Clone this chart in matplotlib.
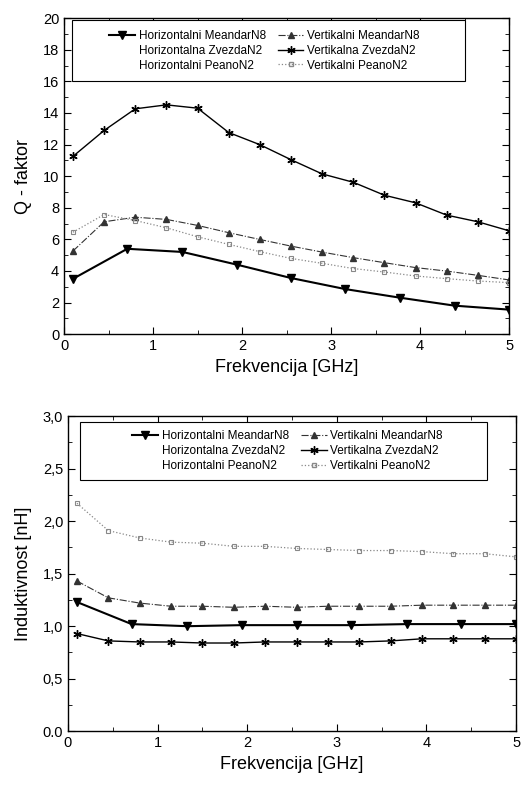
import numpy as np
import matplotlib
matplotlib.use("Agg")
import matplotlib.pyplot as plt
from matplotlib.lines import Line2D
from matplotlib.patches import Rectangle
from matplotlib.ticker import MultipleLocator, FixedLocator, FixedFormatter

plt.rcParams['font.family'] = ['Liberation Sans', 'DejaVu Sans']

# frequencies [GHz]
f_h = [0.1, 0.71, 1.33, 1.94, 2.55, 3.16, 3.78, 4.39, 5.0]
f_v = [0.1, 0.45, 0.8, 1.15, 1.5, 1.85, 2.2, 2.55, 2.9, 3.25, 3.6, 3.95, 4.3, 4.65, 5.0]

# Q - faktor
q_hor_meandar = [3.5, 5.4, 5.2, 4.4, 3.55, 2.85, 2.3, 1.8, 1.55]
q_ver_meandar = [5.26, 7.11, 7.40, 7.26, 6.88, 6.42, 5.99, 5.57, 5.19, 4.84, 4.52, 4.21, 3.99, 3.72, 3.43]
q_ver_zvezda = [11.25, 12.89, 14.26, 14.51, 14.30, 12.76, 11.99, 11.04, 10.14, 9.61, 8.79, 8.31, 7.53, 7.11, 6.54]
q_ver_peano = [6.45, 7.57, 7.19, 6.73, 6.16, 5.68, 5.22, 4.79, 4.48, 4.15, 3.93, 3.68, 3.51, 3.36, 3.26]

# Induktivnost [nH]
l_hor_meandar = [1.23, 1.02, 1.0, 1.01, 1.01, 1.01, 1.02, 1.02, 1.02]
l_ver_meandar = [1.43, 1.27, 1.22, 1.19, 1.19, 1.18, 1.19, 1.18, 1.19, 1.19, 1.19, 1.2, 1.2, 1.2, 1.2]
l_ver_zvezda = [0.93, 0.86, 0.85, 0.85, 0.84, 0.84, 0.85, 0.85, 0.85, 0.85, 0.86, 0.88, 0.88, 0.88, 0.88]
l_ver_peano = [2.17, 1.91, 1.84, 1.80, 1.79, 1.76, 1.76, 1.74, 1.73, 1.72, 1.72, 1.71, 1.69, 1.69, 1.66]

labels = ['Horizontalni MeandarN8', 'Horizontalna ZvezdaN2', 'Horizontalni PeanoN2',
          'Vertikalni MeandarN8', 'Vertikalna ZvezdaN2', 'Vertikalni PeanoN2']

ASTER = (6, 2, 0)


def drawSeries(ax, hm, vm, vz, vp):
    ax.plot(f_h, hm, '-', color='black', lw=1.5, marker='v', ms=6)
    ax.plot(f_v, vm, '-.', color='#333333', lw=0.8, marker='^', ms=4)
    ax.plot(f_v, vz, '-', color='black', lw=1.0, marker=ASTER, ms=6, mew=1.0)
    ax.plot(f_v, vp, ':', color='#888888', lw=0.9, marker='s', ms=3.5,
            mfc='none', mec='#888888', mew=0.8)


def addLegend(ax, box, center):
    # frame drawn by hand, wider than the legend contents
    x0, y0, x1, y1 = box
    ax.add_patch(Rectangle((x0, y0), x1 - x0, y1 - y0, transform=ax.transAxes,
                           fill=True, facecolor='white', edgecolor='black', lw=0.8, zorder=4))
    blank = Line2D([], [], color='none')
    handles = [
        Line2D([], [], color='black', lw=1.5, marker='v', ms=6),
        blank, blank,
        Line2D([], [], color='#333333', ls='-.', lw=0.8, marker='^', ms=4),
        Line2D([], [], color='black', lw=1.0, marker=ASTER, ms=6),
        Line2D([], [], color='#888888', ls=':', lw=0.9, marker='s', ms=3.5, mfc='none'),
    ]
    leg = ax.legend(handles, labels, ncol=2, loc='center', bbox_to_anchor=(center, (y0 + y1) / 2),
                    fontsize=8.5, frameon=False, handlelength=2.2, handletextpad=0.3,
                    columnspacing=1.0, labelspacing=0.25, borderpad=0.2)
    leg.set_zorder(5)


def styleAxes(ax):
    ax.set_xlim(0, 5)
    ax.xaxis.set_major_locator(MultipleLocator(1))
    ax.xaxis.set_minor_locator(MultipleLocator(0.5))
    ax.tick_params(which='both', direction='in', top=True, right=True, labelsize=10.5)
    ax.tick_params(which='major', length=5)
    ax.tick_params(which='minor', length=3)
    for s in ax.spines.values():
        s.set_linewidth(1.0)
    ax.set_xlabel('Frekvencija [GHz]', fontsize=13, labelpad=4)


fig = plt.figure(figsize=(5.21, 7.88), dpi=100)

# Q - faktor
ax1 = fig.add_axes([0.123, 0.576, 0.854, 0.401])
drawSeries(ax1, q_hor_meandar, q_ver_meandar, q_ver_zvezda, q_ver_peano)
ax1.set_ylim(0, 20)
ax1.yaxis.set_major_locator(MultipleLocator(2))
ax1.yaxis.set_minor_locator(MultipleLocator(1))
styleAxes(ax1)
ax1.set_ylabel('Q - faktor', fontsize=13, labelpad=8)
addLegend(ax1, (0.018, 0.80, 0.90, 0.994), 0.45)

# Induktivnost
ax2 = fig.add_axes([0.1305, 0.072, 0.86, 0.400])
drawSeries(ax2, l_hor_meandar, l_ver_meandar, l_ver_zvezda, l_ver_peano)
ax2.set_ylim(0, 3)
yt = [0.0, 0.5, 1.0, 1.5, 2.0, 2.5, 3.0]
ax2.yaxis.set_major_locator(FixedLocator(yt))
ax2.yaxis.set_major_formatter(FixedFormatter(['0.0', '0,5', '1,0', '1,5', '2,0', '2,5', '3,0']))
ax2.yaxis.set_minor_locator(MultipleLocator(0.25))
styleAxes(ax2)
ax2.set_ylabel('Induktivnost [nH]', fontsize=13, labelpad=8)
addLegend(ax2, (0.027, 0.797, 0.935, 0.98), 0.49)

fig.savefig('out.png', dpi=100)
